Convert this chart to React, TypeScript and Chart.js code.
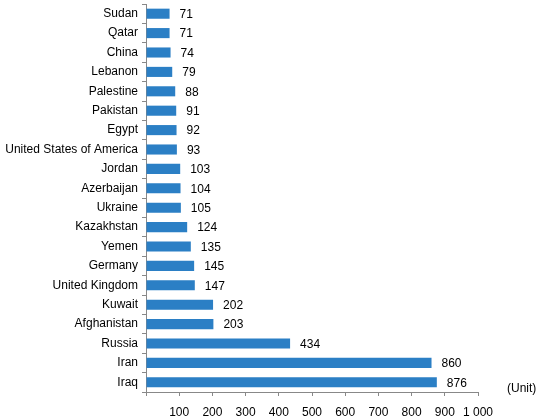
import Chart, { type ChartOptions, type Plugin } from "chart.js/auto";
import { useEffect, useRef } from "react";

const countries = [
  "Sudan",
  "Qatar",
  "China",
  "Lebanon",
  "Palestine",
  "Pakistan",
  "Egypt",
  "United States of America",
  "Jordan",
  "Azerbaijan",
  "Ukraine",
  "Kazakhstan",
  "Yemen",
  "Germany",
  "United Kingdom",
  "Kuwait",
  "Afghanistan",
  "Russia",
  "Iran",
  "Iraq",
];

const counts = [71, 71, 74, 79, 88, 91, 92, 93, 103, 104, 105, 124, 135, 145, 147, 202, 203, 434, 860, 876];

const unitLabel = "(Unit)";
const FONT = "Liberation Sans, Arial, sans-serif";

// --- value labels at the end of each bar, plus the unit note ---
const labelsPlugin: Plugin<"bar"> = {
  id: "barLabels",
  afterDatasetsDraw(chart) {
    const ctx = chart.ctx;
    const meta = chart.getDatasetMeta(0);
    ctx.save();
    ctx.font = `12px ${FONT}`;
    ctx.fillStyle = "#000";
    ctx.textAlign = "left";
    ctx.textBaseline = "middle";
    meta.data.forEach((bar, i) => {
      ctx.fillText(String(counts[i]), bar.x + 10, bar.y + 1);
    });
    const area = chart.chartArea;
    ctx.fillText(unitLabel, area.right + 29, area.bottom - 3);
    ctx.restore();
  },
};

const App: React.FC = () => {
  const canvasRef = useRef<HTMLCanvasElement | null>(null);

  useEffect(() => {
    document.body.style.margin = "0";
    if (!canvasRef.current) return;

    const options: ChartOptions<"bar"> = {
      indexAxis: "y",
      responsive: false,
      animation: false,
      layout: { padding: { top: 4, right: 64, left: 0, bottom: 0 } },
      plugins: {
        legend: { display: false },
        tooltip: { enabled: false },
      },
      scales: {
        x: {
          min: 0,
          max: 1000,
          afterFit: s => {
            s.height = 27;
            s.paddingLeft = 0;
            s.paddingRight = 0;
          },
          ticks: {
            stepSize: 100,
            color: "#000",
            font: { family: FONT, size: 12 },
            padding: 9,
            maxRotation: 0,
            callback: v => {
              const n = Number(v);
              if (n === 0) return "";
              return n >= 1000 ? "1 000" : String(n);
            },
          },
          grid: {
            drawOnChartArea: false,
            color: "#888",
            tickLength: 4,
          },
          border: { color: "#888" },
        },
        y: {
          afterFit: s => {
            s.width = 146;
            s.paddingTop = 0;
            s.paddingBottom = 0;
          },
          ticks: {
            color: "#000",
            font: { family: FONT, size: 12 },
            padding: 4,
            autoSkip: false,
          },
          grid: {
            drawOnChartArea: false,
            color: "#888",
            tickLength: 4,
            offset: true,
          },
          border: { color: "#888" },
        },
      },
    };

    const chart = new Chart(canvasRef.current, {
      type: "bar",
      data: {
        labels: countries,
        datasets: [
          {
            data: counts,
            backgroundColor: "#2b7fc5",
            categoryPercentage: 1,
            barPercentage: 0.52,
          },
        ],
      },
      options,
      plugins: [labelsPlugin],
    });

    return () => {
      chart.destroy();
    };
  }, []);

  return (
    <div style={{ width: 542, height: 419 }}>
      <canvas ref={canvasRef} width={542} height={419} />
    </div>
  );
};

export default App;
